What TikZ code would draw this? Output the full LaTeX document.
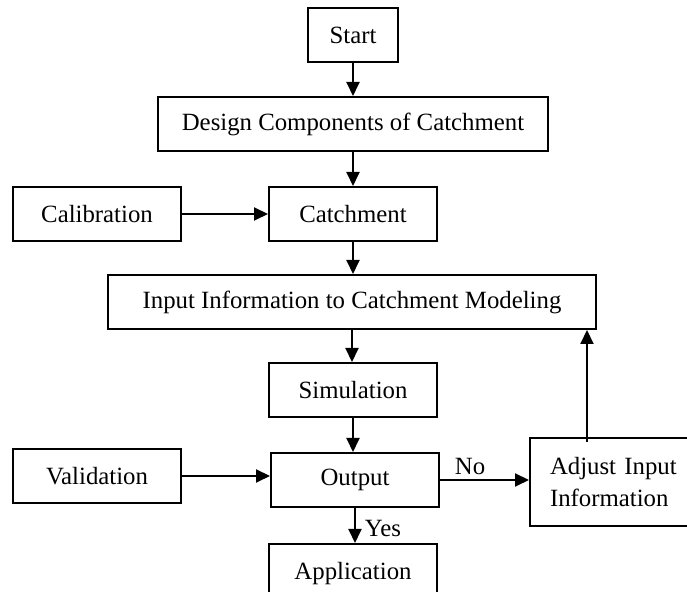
\documentclass[tikz,border=0pt]{standalone}
\usepackage{fontspec}
\setmainfont{Liberation Serif}
\usetikzlibrary{arrows.meta}
\begin{document}
\begin{tikzpicture}[x=0.5pt,y=-0.5pt,
  every node/.style={font=\fontsize{12.4}{16}\selectfont},
  box/.style={draw,line width=1pt,rectangle,inner sep=0pt,minimum height=27pt},
  arr/.style={line width=1pt,-{Triangle[length=7pt,width=6.5pt]}},
  lbl/.style={inner sep=0pt}]
\useasboundingbox (0,0) rectangle (687,592);
\clip (0,0) rectangle (687,592);
% main column
\node[box,minimum width=45pt]    (start)  at (353,35)    {Start};
\node[box,minimum width=195pt]   (design) at (353,124)   {Design Components of Catchment};
\node[box,minimum width=84pt]    (calib)  at (97,214)    {Calibration};
\node[box,minimum width=84pt]    (catch)  at (353,214)   {Catchment};
\node[box,minimum width=244pt]   (input)  at (352,302)   {Input Information to Catchment Modeling};
\node[box,minimum width=84pt]    (sim)    at (353,390)   {Simulation};
\node[box,minimum width=84pt]    (valid)  at (97,476)    {Validation};
\node[box,minimum width=84pt]    (output) at (355,480)   {Output};
\node[box,anchor=north west,minimum width=95pt,minimum height=44pt,
      text width=75pt,inner xsep=10pt,align=left] (adjust) at (529,437)
      {Adjust Input\\Information};
\node[box,anchor=north,minimum width=84pt,minimum height=30pt] (app) at (353,543) {Application};
% connectors
\draw[arr] (start.south)  -- (start.south |- design.north);
\draw[arr] (design.south) -- (design.south |- catch.north);
\draw[arr] (calib.east)   -- (calib.east -| catch.west);
\draw[arr] (catch.south)  -- (catch.south |- input.north);
\draw[arr] (input.south)  -- (input.south |- sim.north);
\draw[arr] (sim.south)    -- (sim.south |- output.north);
\draw[arr] (valid.east)   -- (valid.east -| output.west);
\draw[arr] (output.east)  -- (output.east -| adjust.west);
\draw[arr] (output.south) -- (output.south |- app.north);
\coordinate (fb) at (587,442);
\draw[arr] (fb) -- (fb |- input.south);
% branch labels
\node[lbl] (no)  at (470,467) {No};
\node[lbl] (yes) at (383,529) {Yes};
\end{tikzpicture}
\end{document}
